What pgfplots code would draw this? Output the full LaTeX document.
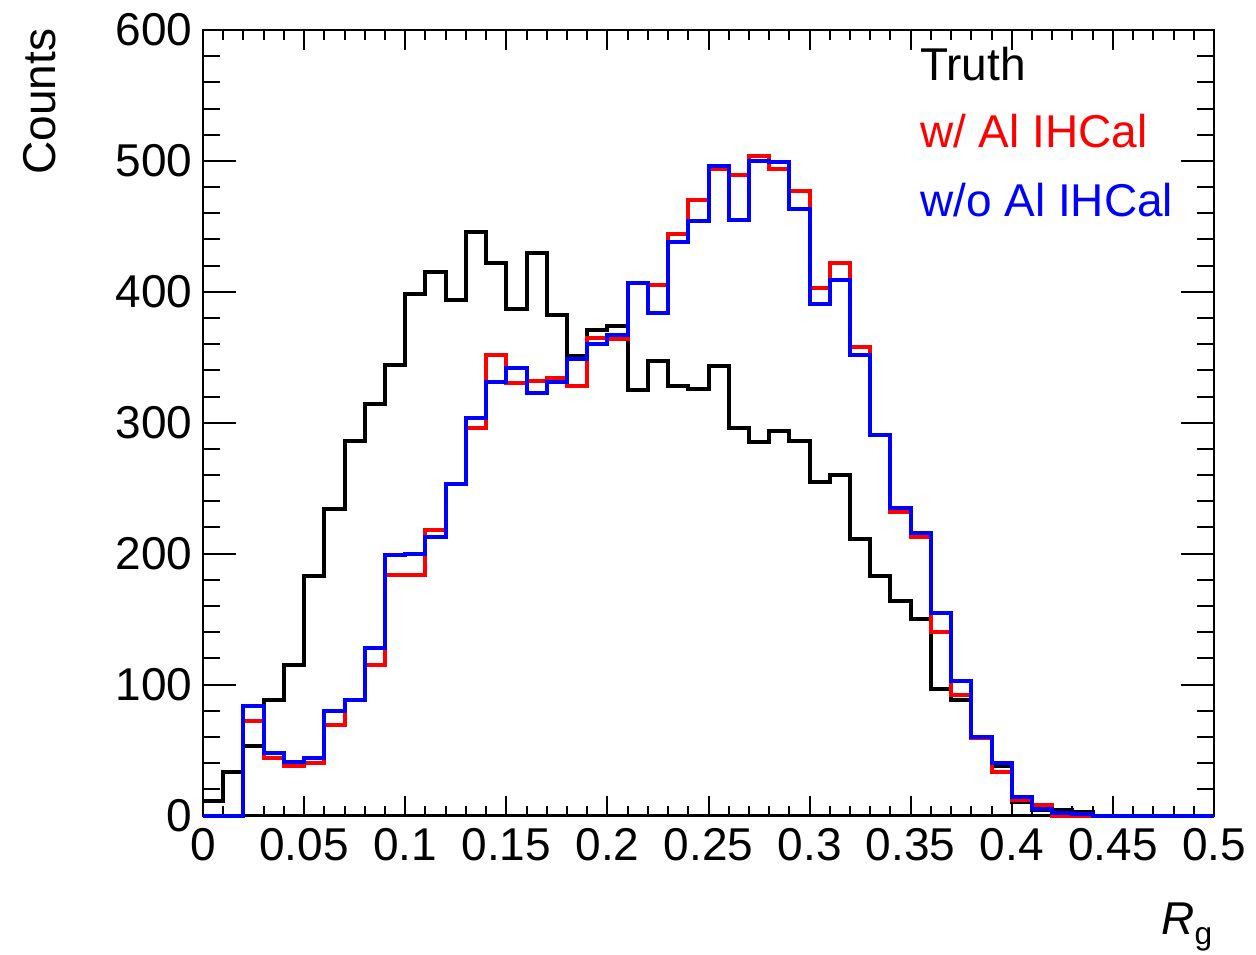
\documentclass[border=0pt]{standalone}
\usepackage{pgfplots}
\pgfplotsset{compat=1.18}
\usepackage{fontspec}
\setmainfont{Liberation Sans}
\definecolor{rootred}{RGB}{255,0,0}
\definecolor{rootblue}{RGB}{0,0,255}
\pgfplotstableread{
x truth withal withoutal
0.00 11 0 0
0.01 33 0 0
0.02 53 72 84
0.03 88 44 48
0.04 115 38 41
0.05 183 40 44
0.06 234 69 80
0.07 286 88 88
0.08 314 115 128
0.09 344 184 199
0.10 398 184 200
0.11 415 218 213
0.12 394 253 253
0.13 446 296 304
0.14 422 352 331
0.15 387 330 342
0.16 430 332 323
0.17 382 334 331
0.18 351 328 349
0.19 371 365 360
0.20 374 364 367
0.21 325 407 407
0.22 347 405 384
0.23 328 444 438
0.24 326 470 454
0.25 343 494 496
0.26 296 489 455
0.27 285 504 500
0.28 294 494 499
0.29 286 477 463
0.30 255 403 391
0.31 260 422 409
0.32 211 358 352
0.33 183 291 291
0.34 164 232 235
0.35 150 213 216
0.36 97 140 155
0.37 88 92 103
0.38 59 59 60
0.39 38 33 40
0.40 10 12 14
0.41 4 8 5
0.42 4 0 2
0.43 3 0 1
0.44 0 0 0
0.45 0 0 0
0.46 0 0 0
0.47 0 0 0
0.48 0 0 0
0.49 0 0 0
0.50 0 0 0
}\histdata
\begin{document}
\begin{tikzpicture}
\begin{axis}[
  scale only axis,
  width=303.3pt, height=235.65pt,
  xmin=0, xmax=0.5, ymin=0, ymax=600,
  clip=false,
  xtick={0,0.05,0.1,0.15,0.2,0.25,0.3,0.35,0.4,0.45,0.5},
  xticklabels={0,0.05,0.1,0.15,0.2,0.25,0.3,0.35,0.4,0.45,0.5},
  ytick={0,100,200,300,400,500,600},
  minor tick num=4,
  tick align=inside,
  xtick style={/pgfplots/major tick length=6pt,/pgfplots/minor tick length=3pt},
  ytick style={/pgfplots/major tick length=10pt,/pgfplots/minor tick length=5pt},
  major tick length=8pt, minor tick length=4pt,
  axis line style={line width=0.7pt},
  every tick/.style={black, line width=0.6pt},
  /pgf/number format/assume math mode=true,
  tick label style={font=\fontsize{13.8}{16}\selectfont},
  xticklabel style={inner sep=0pt, yshift=-3.6pt},
  yticklabel style={inner sep=0pt, xshift=-3pt},
]
\addplot[const plot mark left, black, line width=1.2pt] table[x=x, y=truth] {\histdata};
\addplot[const plot mark left, rootred, line width=1.2pt] table[x=x, y=withal] {\histdata};
\addplot[const plot mark left, rootblue, line width=1.2pt] table[x=x, y=withoutal] {\histdata};
\node[anchor=base west, inner sep=0pt, font=\fontsize{13.8}{16}\selectfont, text=black] at (axis cs:0.3543,561.8) {Truth};
\node[anchor=base west, inner sep=0pt, font=\fontsize{13.8}{16}\selectfont, text=rootred] at (axis cs:0.3543,509.9) {w/ Al IHCal};
\node[anchor=base west, inner sep=0pt, font=\fontsize{13.8}{16}\selectfont, text=rootblue] at (axis cs:0.3543,457.3) {w/o Al IHCal};
\end{axis}
\node[rotate=90, anchor=east, inner sep=0pt, font=\fontsize{13.8}{16}\selectfont] at ([xshift=-48.9pt, yshift=0.6pt]current axis.north west) {Counts};
\node[anchor=base east, inner sep=0pt, font=\fontsize{13.8}{16}\selectfont] at ([xshift=-0.3pt, yshift=-35.7pt]current axis.south east) {\textit{R}\raisebox{-3pt}{\fontsize{9.5}{10}\selectfont g}};
\pgfresetboundingbox
\path ([xshift=-60.9pt,yshift=-41.55pt]current axis.south west) rectangle ([xshift=12.6pt,yshift=9pt]current axis.north east);
\end{tikzpicture}
\end{document}
